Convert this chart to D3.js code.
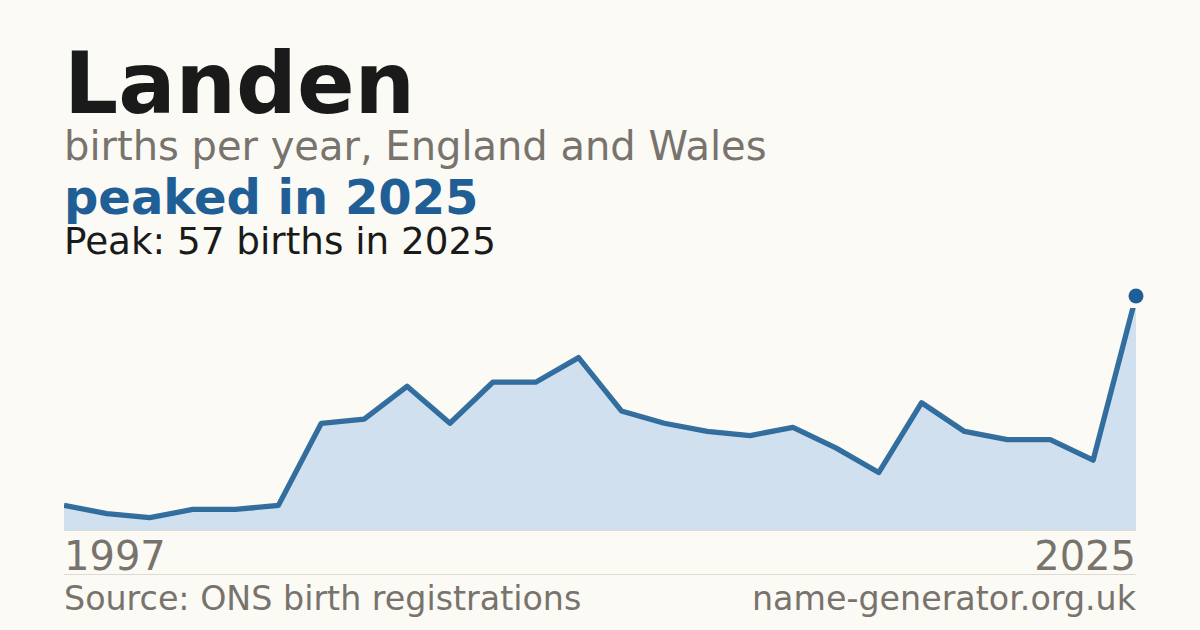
<!DOCTYPE html>
<html>
<head>
<meta charset="utf-8">
<script src="https://cdn.jsdelivr.net/npm/d3@7"></script>
<style>
    body { margin: 0; background: #fbfaf5; }
    svg { display: block; font-family: "DejaVu Sans", sans-serif; }
</style>
</head>
<body>
<div id="chart"></div>
<script>
// births per year for the name Landen (years with too few births are missing)
var years = [1997, 1998, 2000, 2002, 2003, 2005, 2006, 2007, 2008, 2009, 2010, 2011, 2012,
             2013, 2014, 2015, 2016, 2017, 2018, 2019, 2020, 2021, 2022, 2023, 2024, 2025]
var births = [6, 4, 3, 5, 5, 6, 26, 27, 35, 26, 36, 36, 42,
              29, 26, 24, 23, 25, 20, 14, 31, 24, 22, 22, 17, 57]
var axisLabels = ["1997", "2025"]

var w = 1200, h = 630
var plotLeft = 64, plotRight = 1136, plotTop = 296, plotBottom = 530
var blue = "#1f5f96", grey = "#78736c"

var data = years.map((yr, i) => ({ year: yr, value: births[i] }))
var peak = data.reduce((a, b) => b.value >= a.value ? b : a)

var svg = d3.select("#chart")
    .append("svg")
    .attr("width", w)
    .attr("height", h)

svg.append("rect").attr("width", w).attr("height", h).attr("fill", "#fbfaf5")

var x = d3.scalePoint()
    .domain(years)
    .range([plotLeft, plotRight])

var y = d3.scaleLinear()
    .domain([0, d3.max(births)])
    .range([plotBottom, plotTop])

// headings
svg.append("text")
    .attr("x", plotLeft).attr("y", 113)
    .attr("font-size", 85).attr("font-weight", "bold")
    .attr("fill", "#1a1a1a")
    .text("Landen")

svg.append("text")
    .attr("x", plotLeft).attr("y", 160)
    .attr("font-size", 40)
    .attr("fill", grey)
    .text("births per year, England and Wales")

svg.append("text")
    .attr("x", plotLeft).attr("y", 214)
    .attr("font-size", 48).attr("font-weight", "bold")
    .attr("fill", blue)
    .text("peaked in " + peak.year)

svg.append("text")
    .attr("x", plotLeft).attr("y", 254)
    .attr("font-size", 37.3)
    .attr("fill", "#1a1a1a")
    .text("Peak: " + peak.value + " births in " + peak.year)

// the plot is clipped a little below the peak marker
svg.append("clipPath")
    .attr("id", "plot-clip")
    .append("rect")
    .attr("x", plotLeft).attr("y", plotTop + 12)
    .attr("width", plotRight - plotLeft).attr("height", plotBottom - plotTop - 12)

var plot = svg.append("g").attr("clip-path", "url(#plot-clip)")

plot.append("path")
    .datum(data)
    .attr("fill", "#d0e0ef")
    .attr("d", d3.area()
        .x(d => x(d.year))
        .y0(plotBottom)
        .y1(d => y(d.value)))

plot.append("path")
    .datum(data)
    .attr("fill", "none")
    .attr("stroke", blue)
    .attr("stroke-width", 5.3)
    .attr("stroke-linejoin", "round")
    .attr("stroke-opacity", 0.9)
    .attr("d", d3.line()
        .x(d => x(d.year))
        .y(d => y(d.value)))

// baseline
svg.append("line")
    .attr("x1", plotLeft).attr("x2", plotRight)
    .attr("y1", plotBottom + 0.5).attr("y2", plotBottom + 0.5)
    .attr("stroke", "#dddad2")

svg.append("circle")
    .attr("cx", x(peak.year))
    .attr("cy", y(peak.value))
    .attr("r", 7.5)
    .attr("fill", blue)

// first and last year
svg.append("text")
    .attr("x", plotLeft).attr("y", 570)
    .attr("font-size", 40)
    .attr("fill", grey)
    .text(axisLabels[0])

svg.append("text")
    .attr("x", plotRight).attr("y", 570)
    .attr("font-size", 40)
    .attr("text-anchor", "end")
    .attr("fill", grey)
    .text(axisLabels[1])

svg.append("line")
    .attr("x1", plotLeft).attr("x2", plotRight)
    .attr("y1", 574.5).attr("y2", 574.5)
    .attr("stroke", "#dddad2")

// footer
svg.append("text")
    .attr("x", plotLeft).attr("y", 610)
    .attr("font-size", 33.3)
    .attr("fill", grey)
    .text("Source: ONS birth registrations")

svg.append("text")
    .attr("x", plotRight).attr("y", 610)
    .attr("font-size", 33.3)
    .attr("text-anchor", "end")
    .attr("fill", grey)
    .text("name-generator.org.uk")
</script>
</body>
</html>
